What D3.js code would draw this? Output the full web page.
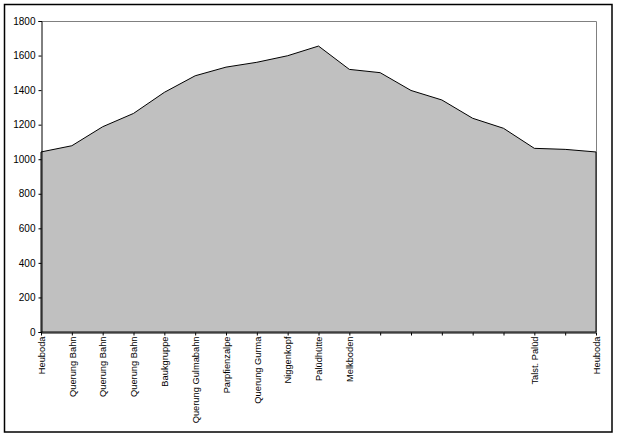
<!DOCTYPE html>
<html>
<head>
<meta charset="utf-8">
<script src="https://d3js.org/d3.v7.min.js"></script>
<style>
  body { margin: 0; background: #fff; }
  svg text { font-family: "Liberation Sans", Arial, sans-serif; font-size: 10px; fill: #000; }
</style>
</head>
<body>
<div id="chart"></div>
<script>
// stations along the route (blank ones have no label)
var stations = ["Heuboda", "Querung Bahn", "Querung Bahn", "Querung Bahn", "Baukgruppe",
  "Querung Gulmabahn", "Parpfienzalpe", "Querung Gurma", "Niggenkopf", "Palüdhütte",
  "Melkboden", "", "", "", "", "", "Talst. Palüd", "", "Heuboda"];
// altitude in metres
var altitude = [1042, 1078, 1188, 1265, 1387, 1483, 1533, 1561, 1599, 1655,
  1520, 1501, 1398, 1343, 1237, 1179, 1063, 1057, 1042];
var yTicks = [0, 200, 400, 600, 800, 1000, 1200, 1400, 1600, 1800];

var W = 618, H = 437;
var margin = { top: 21, right: 22, bottom: 105, left: 41 };
var width = W - margin.left - margin.right;
var height = H - margin.top - margin.bottom;

var svg = d3.select("#chart").append("svg")
  .attr("width", W)
  .attr("height", H);

// outer frame
svg.append("rect")
  .attr("x", 4.5).attr("y", 4.5)
  .attr("width", 607.5).attr("height", 427.5)
  .attr("fill", "none")
  .attr("stroke", "#000")
  .attr("stroke-width", 1.5);

var g = svg.append("g")
  .attr("transform", "translate(" + margin.left + "," + margin.top + ")");

var idx = d3.range(stations.length);
var x = d3.scalePoint().domain(idx).range([0, width]);
var y = d3.scaleLinear().domain([0, 1800]).range([height, 0]);

// plot area border (grey top and right)
g.append("path")
  .attr("d", "M0.5,0.5H" + (width + 0.5) + "V" + height)
  .attr("fill", "none")
  .attr("stroke", "#808080");

// area
var area = d3.area()
  .x(function (d, i) { return x(i); })
  .y0(y(0))
  .y1(function (d) { return y(d); });

g.append("path")
  .datum(altitude)
  .attr("d", area)
  .attr("fill", "#c0c0c0")
  .attr("stroke", "#000")
  .attr("stroke-width", 1);

// y axis
var yAxis = g.append("g")
  .attr("transform", "translate(0.5,0)")
  .call(d3.axisLeft(y).tickValues(yTicks).tickSize(3).tickPadding(3).tickFormat(d3.format("d")));
yAxis.selectAll("path, line").attr("stroke", "#000");

// x axis
var xAxis = g.append("g")
  .attr("transform", "translate(0," + (height + 0.5) + ")")
  .call(d3.axisBottom(x).tickSize(3).tickSizeOuter(0).tickFormat(function (i) { return stations[i]; }));
xAxis.selectAll("path, line").attr("stroke", "#000");

svg.selectAll(".domain").attr("stroke", "#000");
svg.selectAll(".tick text").style("font-family", "'Liberation Sans', Arial, sans-serif").style("font-size", "10px");

xAxis.selectAll("text")
  .attr("transform", "rotate(-90)")
  .attr("text-anchor", "end")
  .attr("x", -4)
  .attr("y", 0)
  .attr("dy", "0.35em")
  .style("font-size", "9.3px");
</script>
</body>
</html>
